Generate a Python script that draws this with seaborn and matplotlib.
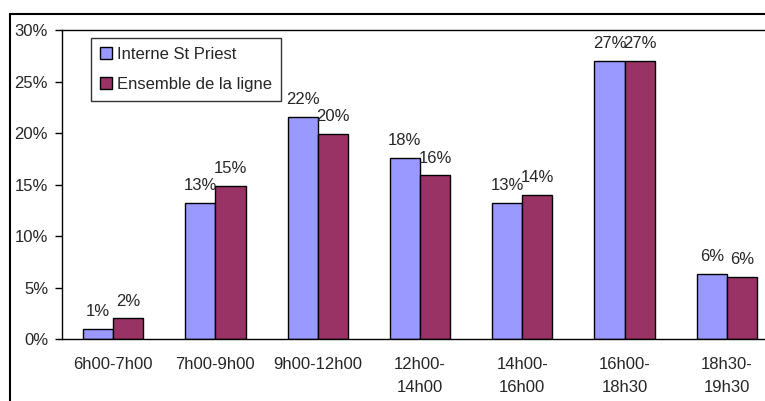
# coding=utf-8
# filename: plot.py

import matplotlib.pyplot as plt
import matplotlib.patches as patches
import pandas as pd
import seaborn as sns


slots = ['6h00-7h00', '7h00-9h00', '9h00-12h00', '12h00-\n14h00',
         '14h00-\n16h00', '16h00-\n18h30', '18h30-\n19h30']
interne = [0.97, 13.2, 21.6, 17.6, 13.2, 27.0, 6.3]
ensemble = [2.0, 14.9, 19.9, 15.9, 14.0, 27.0, 6.0]
series = ['Interne St Priest', 'Ensemble de la ligne']
colors = ['#9999FF', '#993366']
y_ticks = [0, 5, 10, 15, 20, 25, 30]

font_size = 12


def main():

    df = pd.DataFrame({
        'slot': slots * 2,
        'pct': interne + ensemble,
        'serie': [series[0]] * len(slots) + [series[1]] * len(slots),
    })

    sns.set_theme(style='white')
    plt.rcParams['font.family'] = ['Liberation Sans', 'DejaVu Sans']

    fig = plt.figure(figsize=(7.65, 4.01), dpi=100)
    ax = fig.add_axes([0.081, 0.1546, 0.936, 0.7704])

    sns.barplot(data=df, x='slot', y='pct', hue='serie', palette=colors,
                width=0.59, gap=0, edgecolor='black', linewidth=1,
                saturation=1, ax=ax, legend=True)

    for c in ax.containers:
        ax.bar_label(c, labels=['%d%%' % round(b.get_height()) for b in c],
                     padding=7, fontsize=font_size)

    ax.set_ylim(0, 30)
    ax.set_xlim(-0.5, len(slots) - 0.5)
    ax.set_yticks(y_ticks)
    ax.set_yticklabels(['%d%%' % t for t in y_ticks], fontsize=font_size)
    ax.set_xticks(range(len(slots)))
    ax.set_xticklabels(slots, fontsize=font_size, linespacing=1.65)
    ax.set_xticks([i - 0.5 for i in range(len(slots) + 1)], minor=True)
    ax.tick_params(axis='x', which='major', length=0, pad=13)
    ax.tick_params(axis='x', which='minor', length=5, width=1,
                   direction='out', color='black')
    ax.tick_params(axis='y', length=5, width=1, direction='out',
                   color='black', pad=5, left=True)
    ax.set_xlabel('')
    ax.set_ylabel('')
    for s in ax.spines.values():
        s.set_color('black')
        s.set_linewidth(1)

    leg = ax.legend(loc='upper left', bbox_to_anchor=(0.04, 0.975),
                    fontsize=font_size, frameon=True, fancybox=False,
                    handlelength=0.75, handleheight=0.75, handletextpad=0.3,
                    borderpad=0.55, labelspacing=0.9, borderaxespad=0)
    leg.get_frame().set_edgecolor('black')
    leg.get_frame().set_linewidth(1)

    # chart border (cut by the picture edge)
    fig.patches.append(patches.Rectangle((10 / 765, -0.1), 1.2, 1.1 - 14 / 401,
                                         transform=fig.transFigure,
                                         fill=False, edgecolor='black',
                                         linewidth=1.5))

    plt.savefig('out.png', dpi=100)


if __name__ == "__main__":
    main()
